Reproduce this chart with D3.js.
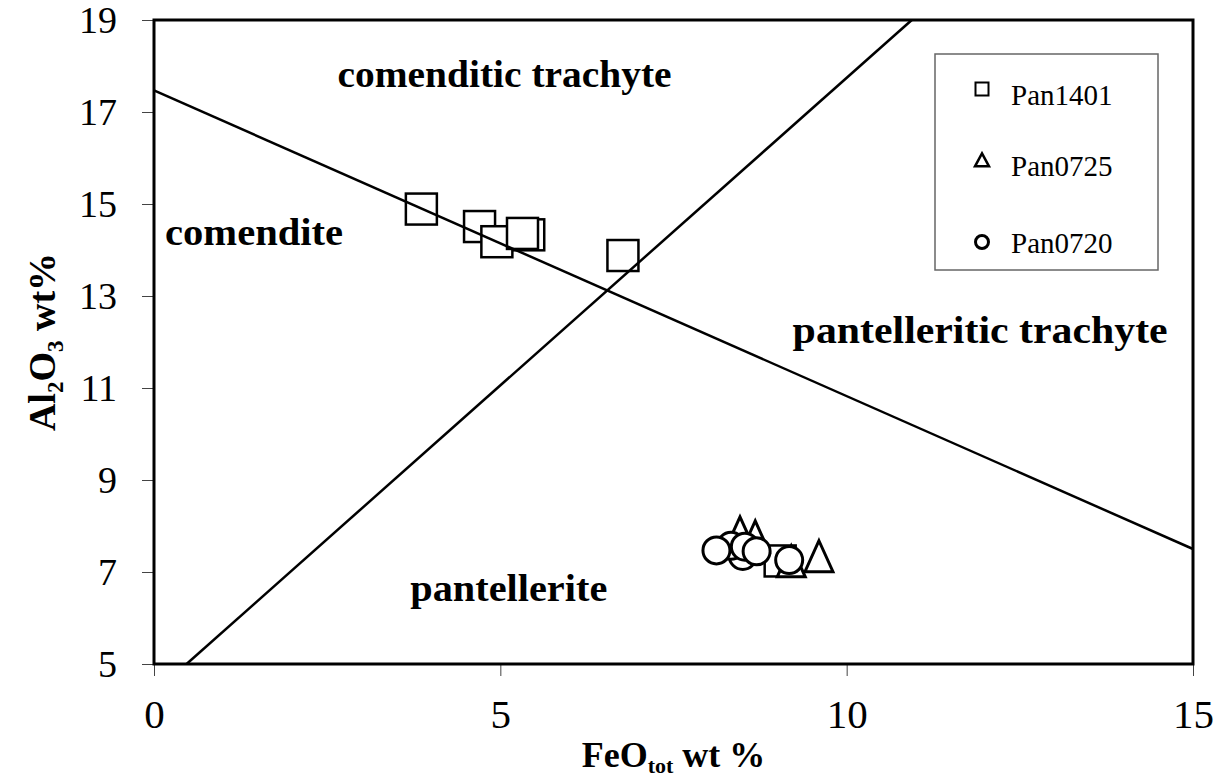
<!DOCTYPE html>
<html>
<head>
<meta charset="utf-8">
<script src="https://cdn.jsdelivr.net/npm/d3@7/dist/d3.min.js"></script>
<style>
  body { margin: 0; background: #fff; }
  svg { display: block; font-family: "Liberation Serif", "Times New Roman", serif; }
</style>
</head>
<body>
<svg id="one" width="1218" height="781"></svg>
<script>
// data (FeO tot wt %, Al2O3 wt %)
const pan1401 = [
  { fe: 3.86, al: 14.89 },
  { fe: 4.70, al: 14.51 },
  { fe: 4.95, al: 14.18 },
  { fe: 5.41, al: 14.33 },
  { fe: 5.32, al: 14.36 },
  { fe: 6.77, al: 13.88 },
  { fe: 9.04, al: 7.24 }
];
const pan0725 = [
  { fe: 8.46, al: 7.75 },
  { fe: 8.68, al: 7.66 },
  { fe: 9.20, al: 7.12 },
  { fe: 9.60, al: 7.23 }
];
const pan0720 = [
  { fe: 8.50, al: 7.35 },
  { fe: 8.33, al: 7.57 },
  { fe: 8.12, al: 7.47 },
  { fe: 8.53, al: 7.55 },
  { fe: 8.70, al: 7.45 },
  { fe: 9.17, al: 7.26 }
];
// classification boundary lines
const comenditeLine = [{ fe: 0, al: 17.47 }, { fe: 15, al: 7.5 }];
const trachyteLine = [{ fe: 0.47, al: 5 }, { fe: 10.94, al: 19 }];

const xTicks = [0, 5, 10, 15];
const yTicks = [5, 7, 9, 11, 13, 15, 17, 19];
const seriesNames = ['Pan1401', 'Pan0725', 'Pan0720'];
const fieldNames = ['comenditic trachyte', 'comendite', 'pantelleritic trachyte', 'pantellerite'];

const svg = d3.select('#one');
const width = +svg.attr('width');
const height = +svg.attr('height');

const x = d3.scaleLinear().domain([0, 15]).range([154, 1193]);
const y = d3.scaleLinear().domain([5, 19]).range([664, 20]);

// where the field names sit (FeO, Al2O3 of baseline start) and how wide they run
const fieldPos = [[2.65, 17.55, 334], [0.16, 14.1, 178], [9.22, 11.98, 375], [3.7, 6.37, 197]];

// tick axes
const yAxis = svg.append('g')
    .attr('transform', 'translate(' + x(0) + ',0)')
    .call(d3.axisLeft(y).tickValues(yTicks).tickSizeInner(12).tickSizeOuter(0).tickPadding(25));
const xAxis = svg.append('g')
    .attr('transform', 'translate(0,' + y(5) + ')')
    .call(d3.axisBottom(x).tickValues(xTicks).tickSizeInner(12).tickSizeOuter(0).tickPadding(23));

[xAxis, yAxis].forEach(a => {
  a.select('.domain').remove();
  a.selectAll('line').attr('stroke', '#444').attr('stroke-width', 1);
  a.selectAll('text')
      .attr('fill', '#000')
      .style('font-family', '"Liberation Serif", serif');
});
yAxis.selectAll('text').style('font-size', '38px');
xAxis.selectAll('text').style('font-size', '41px');

// plot frame
svg.append('rect')
    .attr('x', x(0))
    .attr('y', y(19))
    .attr('width', x(15) - x(0))
    .attr('height', y(5) - y(19))
    .attr('fill', 'none')
    .attr('stroke', '#000')
    .attr('stroke-width', 3);

// squares
const sq = 31;
svg.append('g').selectAll('rect')
    .data(pan1401)
    .enter()
    .append('rect')
    .attr('x', d => x(d.fe) - sq / 2)
    .attr('y', d => y(d.al) - sq / 2)
    .attr('width', sq)
    .attr('height', sq)
    .attr('fill', '#fff')
    .attr('stroke', '#000')
    .attr('stroke-width', 2.5);

// boundary lines drawn over the squares
const line = d3.line().x(d => x(d.fe)).y(d => y(d.al));
[comenditeLine, trachyteLine].forEach(l => {
  svg.append('path')
      .attr('d', line(l))
      .attr('fill', 'none')
      .attr('stroke', '#000')
      .attr('stroke-width', 2.5);
});

// triangles
const triPath = (w, h) => 'M0,' + (-2 * h / 3) + 'L' + (w / 2) + ',' + (h / 3) + 'L' + (-w / 2) + ',' + (h / 3) + 'Z';
svg.append('g').selectAll('path')
    .data(pan0725)
    .enter()
    .append('path')
    .attr('d', triPath(28, 31))
    .attr('transform', d => 'translate(' + x(d.fe) + ',' + y(d.al) + ')')
    .attr('fill', '#fff')
    .attr('stroke', '#000')
    .attr('stroke-width', 3);

// circles
svg.append('g').selectAll('circle')
    .data(pan0720)
    .enter()
    .append('circle')
    .attr('cx', d => x(d.fe))
    .attr('cy', d => y(d.al))
    .attr('r', 13.5)
    .attr('fill', '#fff')
    .attr('stroke', '#000')
    .attr('stroke-width', 3);

// field names
svg.append('g').selectAll('text')
    .data(fieldNames)
    .enter()
    .append('text')
    .attr('x', (d, i) => x(fieldPos[i][0]))
    .attr('y', (d, i) => y(fieldPos[i][1]))
    .attr('textLength', (d, i) => fieldPos[i][2])
    .attr('lengthAdjust', 'spacingAndGlyphs')
    .style('font-size', '37px')
    .style('font-weight', 'bold')
    .text(d => d);

// legend
const lg = svg.append('g');
lg.append('rect')
    .attr('x', 935)
    .attr('y', 54)
    .attr('width', 223)
    .attr('height', 216)
    .attr('fill', '#fff')
    .attr('stroke', '#666')
    .attr('stroke-width', 1.5);

const legendY = [89, 162, 242];
const item = lg.selectAll('g.item')
    .data(seriesNames)
    .enter()
    .append('g')
    .attr('transform', (d, i) => 'translate(982,' + legendY[i] + ')');

item.filter((d, i) => i === 0).append('rect')
    .attr('x', -6.5).attr('y', -6.5).attr('width', 13).attr('height', 13)
    .attr('fill', 'none').attr('stroke', '#000').attr('stroke-width', 2);
item.filter((d, i) => i === 1).append('path')
    .attr('d', triPath(14, 13))
    .attr('fill', 'none').attr('stroke', '#000').attr('stroke-width', 2.5);
item.filter((d, i) => i === 2).append('circle')
    .attr('r', 6.5)
    .attr('fill', 'none').attr('stroke', '#000').attr('stroke-width', 3);

item.append('text')
    .attr('x', 29)
    .attr('y', (d, i) => [16, 14, 11][i])
    .style('font-size', '29px')
    .text(d => d);

// axis titles
const xTitle = svg.append('text')
    .attr('x', (x(0) + x(15)) / 2)
    .attr('y', 767)
    .attr('text-anchor', 'middle')
    .style('font-size', '36px')
    .style('font-weight', 'bold');
xTitle.append('tspan').text('FeO');
xTitle.append('tspan').attr('dy', 6).style('font-size', '22px').text('tot');
xTitle.append('tspan').attr('dy', -6).text(' wt %');

const yTitle = svg.append('text')
    .attr('transform', 'translate(55,' + ((y(5) + y(19)) / 2) + ') rotate(-90)')
    .attr('text-anchor', 'middle')
    .style('font-size', '38px')
    .style('font-weight', 'bold');
yTitle.append('tspan').text('Al');
yTitle.append('tspan').attr('dy', 8).style('font-size', '23px').text('2');
yTitle.append('tspan').attr('dy', -8).text('O');
yTitle.append('tspan').attr('dy', 8).style('font-size', '23px').text('3');
yTitle.append('tspan').attr('dy', -8).text(' wt%');
</script>
</body>
</html>
